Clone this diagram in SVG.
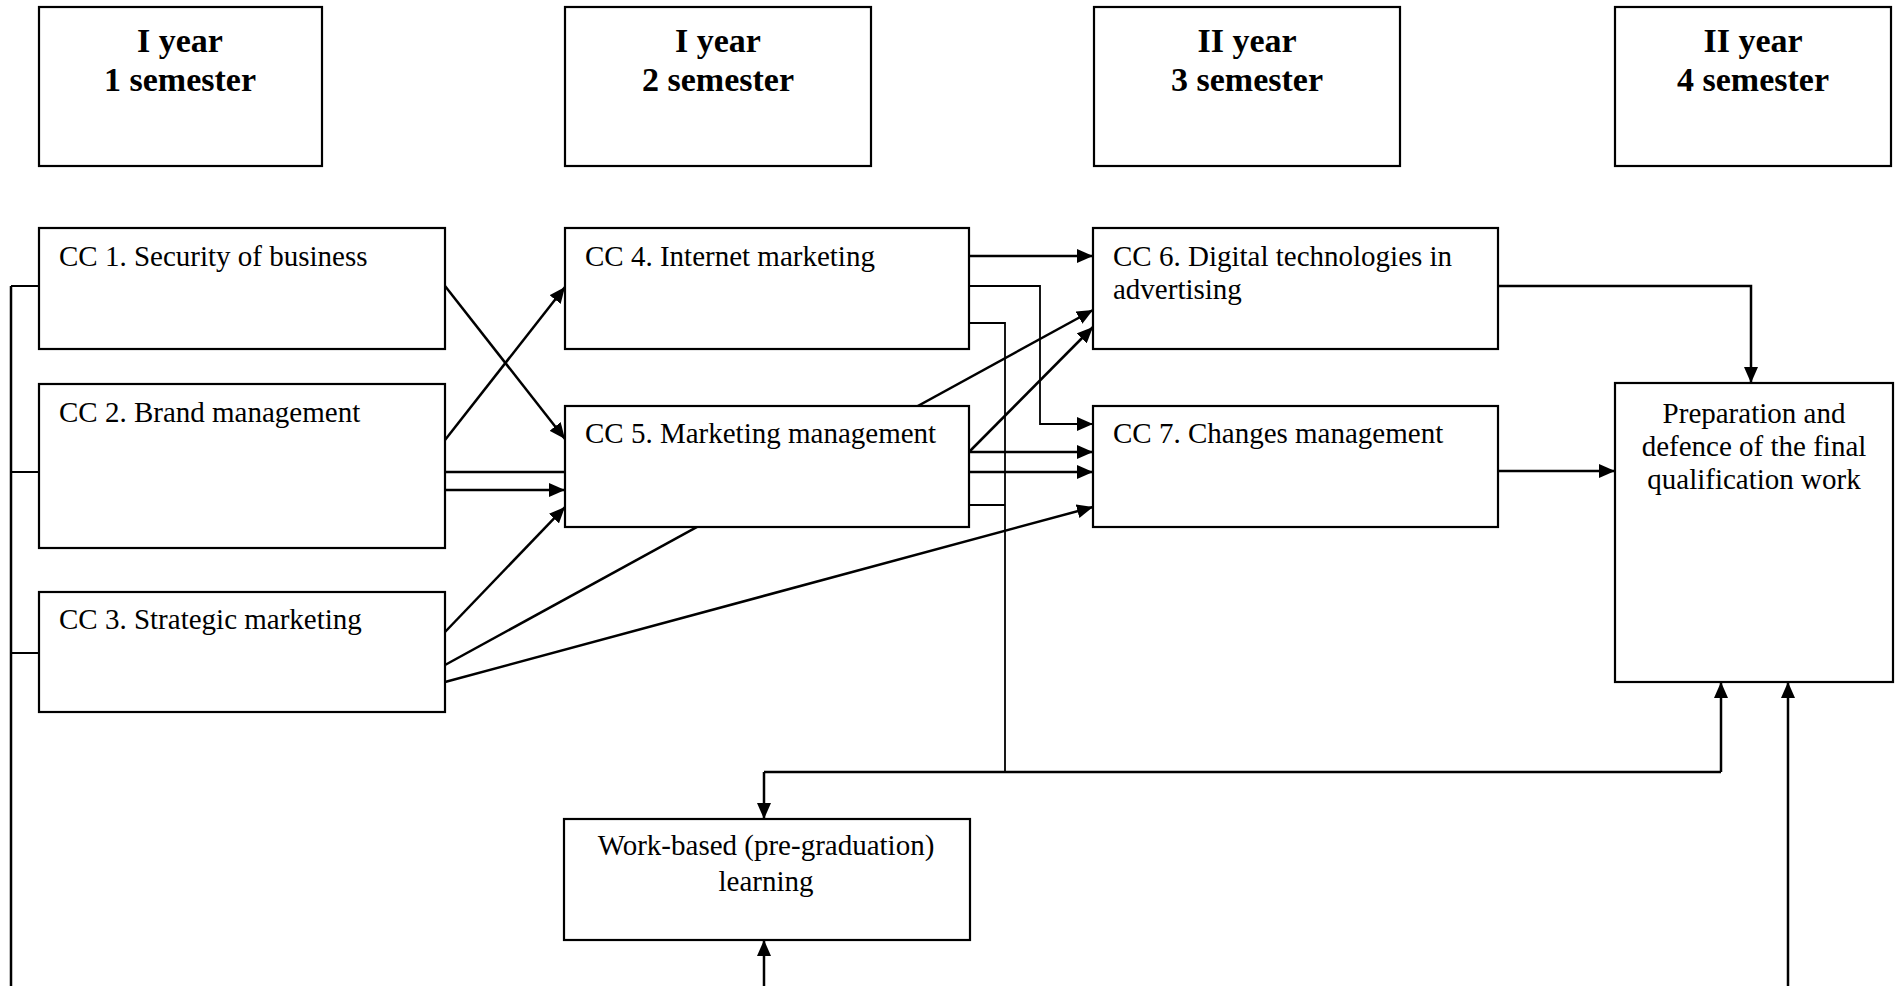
<svg xmlns="http://www.w3.org/2000/svg" width="1897" height="986" viewBox="0 0 1897 986">
<style>
.box{fill:#fff;stroke:#000;stroke-width:2.2}
.t{font-family:"Liberation Serif","Times New Roman",serif;font-size:29px;fill:#000}
.h{font-family:"Liberation Serif","Times New Roman",serif;font-size:34px;font-weight:bold;fill:#000;text-anchor:middle}
.c{text-anchor:middle}
.ln{fill:none;stroke:#000;stroke-width:2.5}
.thin{fill:none;stroke:#000;stroke-width:1.8}
.a{marker-end:url(#arr)}
</style>
<defs>
<marker id="arr" viewBox="0 0 16 14" refX="16" refY="7" markerWidth="16" markerHeight="14" markerUnits="userSpaceOnUse" orient="auto">
<path d="M0,0 L16,7 L0,14 z" fill="#000"/>
</marker>
</defs>
<rect width="1897" height="986" fill="#fff"/>
<g id="connectors">
<path class="ln a" d="M445,286 L565,439"/>
<path class="ln a" d="M445,440 L565,287"/>
<path class="ln a" d="M445,472 L1093,472"/>
<path class="ln a" d="M445,490 L565,490"/>
<path class="ln a" d="M445,632 L565,507"/>
<path class="ln a" d="M445,665 L1093,310"/>
<path class="ln a" d="M445,682 L1093,507"/>
<path class="ln a" d="M969,256 L1093,256"/>
<path class="thin a" d="M969,286 H1040 V424 H1093"/>
<path class="thin" d="M969,323 H1005 V772"/>
<path class="ln a" d="M969,452 L1093,327"/>
<path class="ln a" d="M969,452 L1093,452"/>
<path class="thin" d="M969,505 H1005"/>
<path class="ln a" d="M1498,286 H1751 V383"/>
<path class="ln a" d="M1498,471 H1615"/>
<path class="ln" d="M764,772 H1721"/>
<path class="ln a" d="M764,772 V819"/>
<path class="ln a" d="M1721,772 V682"/>
<path class="ln a" d="M1788,986 V682"/>
<path class="ln a" d="M764,986 V940"/>
<path class="ln" d="M11,286 V986"/>
<path class="thin" d="M11,286 H39 M11,472 H39 M11,653 H39"/>
</g>
<g id="h1"><rect class="box" x="39" y="7" width="283" height="159"/><text class="h" x="180" y="52">I year</text><text class="h" x="180" y="91">1 semester</text></g>
<g id="h2"><rect class="box" x="565" y="7" width="306" height="159"/><text class="h" x="718" y="52">I year</text><text class="h" x="718" y="91">2 semester</text></g>
<g id="h3"><rect class="box" x="1094" y="7" width="306" height="159"/><text class="h" x="1247" y="52">II year</text><text class="h" x="1247" y="91">3 semester</text></g>
<g id="h4"><rect class="box" x="1615" y="7" width="276" height="159"/><text class="h" x="1753" y="52">II year</text><text class="h" x="1753" y="91">4 semester</text></g>
<g id="cc1"><rect class="box" x="39" y="228" width="406" height="121"/><text class="t" x="59" y="266">CC 1. Security of business</text></g>
<g id="cc2"><rect class="box" x="39" y="384" width="406" height="164"/><text class="t" x="59" y="422">CC 2. Brand management</text></g>
<g id="cc3"><rect class="box" x="39" y="592" width="406" height="120"/><text class="t" x="59" y="629">CC 3. Strategic marketing</text></g>
<g id="cc4"><rect class="box" x="565" y="228" width="404" height="121"/><text class="t" x="585" y="266">CC 4. Internet marketing</text></g>
<g id="cc5"><rect class="box" x="565" y="406" width="404" height="121"/><text class="t" x="585" y="443">CC 5. Marketing management</text></g>
<g id="cc6"><rect class="box" x="1093" y="228" width="405" height="121"/><text class="t" x="1113" y="266">CC 6. Digital technologies in</text><text class="t" x="1113" y="299">advertising</text></g>
<g id="cc7"><rect class="box" x="1093" y="406" width="405" height="121"/><text class="t" x="1113" y="443">CC 7. Changes management</text></g>
<g id="prep"><rect class="box" x="1615" y="383" width="278" height="299"/><text class="t c" x="1754" y="423">Preparation and</text><text class="t c" x="1754" y="456">defence of the final</text><text class="t c" x="1754" y="489">qualification work</text></g>
<g id="wbl"><rect class="box" x="564" y="819" width="406" height="121"/><text class="t c" x="766" y="855">Work-based (pre-graduation)</text><text class="t c" x="766" y="891">learning</text></g>
</svg>
